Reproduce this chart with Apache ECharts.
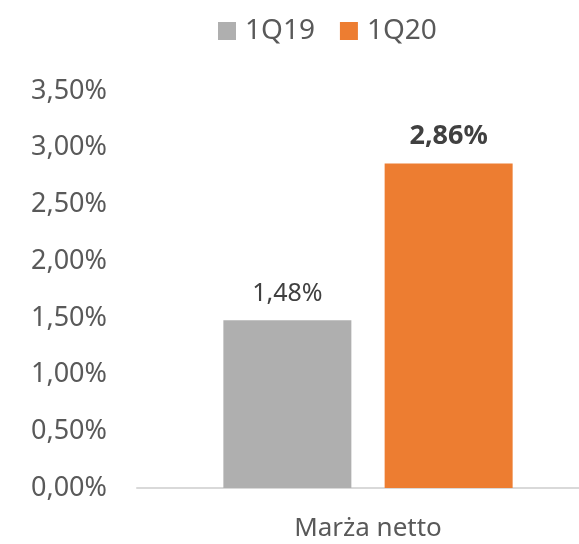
<!DOCTYPE html>
<html>
<head>
<meta charset="utf-8">
<script src="https://cdn.jsdelivr.net/npm/echarts@6/dist/echarts.min.js"></script>
<style>
    html, body { margin: 0; padding: 0; background: #fff; overflow: hidden; }
    /* plot area runs a bit past the right edge of the window, like the original */
    #chart { width: 599px; height: 544px; }
</style>
</head>
<body>
<div id="chart"></div>
<script>
const categories = ['Marża netto'];
const seriesNames = ['1Q19', '1Q20'];
const values1Q19 = [1.48];
const values1Q20 = [2.86];
const yTicks = [0, 0.5, 1, 1.5, 2, 2.5, 3, 3.5];

function pct(v) {
    return v.toFixed(2).replace('.', ',') + '%';
}

const chart = echarts.init(document.getElementById('chart'));

const option = {
    animation: false,
    textStyle: { fontFamily: 'Noto Sans' },
    legend: {
        data: seriesNames,
        top: 12,
        left: 213,
        itemWidth: 18,
        itemHeight: 18,
        itemGap: 25,
        icon: 'rect',
        textStyle: { fontSize: 28, color: '#595959', padding: [0, 0, 0, 4] }
    },
    grid: {
        left: 137,
        top: 91,
        right: 0,
        bottom: 56
    },
    xAxis: {
        type: 'category',
        data: categories,
        axisLine: { lineStyle: { color: '#D9D9D9', width: 2 } },
        axisTick: { show: false },
        axisLabel: { fontSize: 26, color: '#595959', margin: 28 }
    },
    yAxis: {
        type: 'value',
        min: yTicks[0],
        max: yTicks[yTicks.length - 1],
        interval: 0.5,
        splitLine: { show: false },
        axisLine: { show: false },
        axisTick: { show: false },
        axisLabel: {
            fontSize: 27,
            color: '#595959',
            margin: 30,
            formatter: pct
        }
    },
    series: [
        {
            name: seriesNames[0],
            type: 'bar',
            data: values1Q19,
            barWidth: 128,
            barGap: '26%',
            itemStyle: { color: '#AFAFAF' },
            label: {
                show: true,
                position: 'top',
                distance: 14,
                fontSize: 25,
                color: '#404040',
                formatter: p => pct(p.value)
            }
        },
        {
            name: seriesNames[1],
            type: 'bar',
            data: values1Q20,
            barWidth: 128,
            barGap: '26%',
            itemStyle: { color: '#ED7D31' },
            label: {
                show: true,
                position: 'top',
                distance: 14,
                fontSize: 27,
                fontWeight: 'bold',
                color: '#404040',
                formatter: p => pct(p.value)
            }
        }
    ]
};

chart.setOption(option);
</script>
</body>
</html>
